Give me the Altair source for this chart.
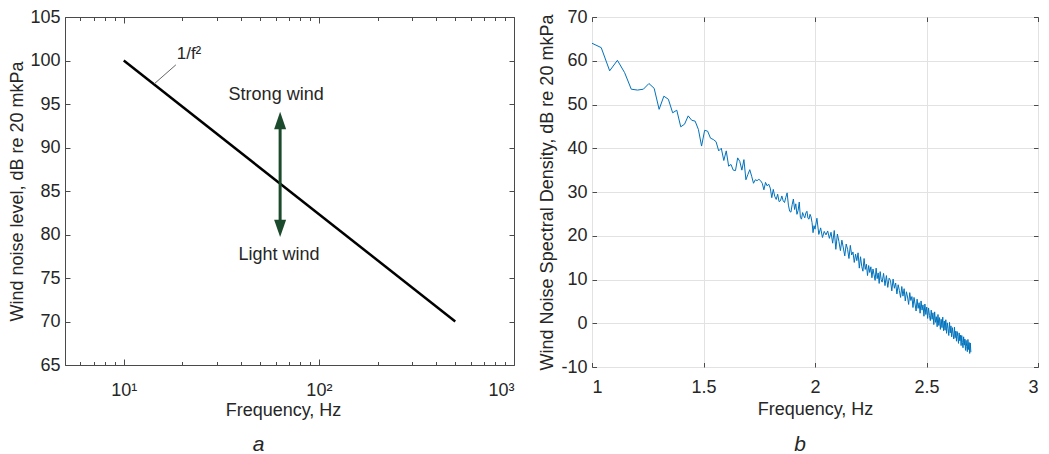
import altair as alt
import numpy as np
import pandas as pd

# ---------------- panel a ----------------
a_line_freq = [10, 500]
a_line_db = [100, 70]
a_ytick_values = [65, 70, 75, 80, 85, 90, 95, 100, 105]
a_xtick_major = [10, 100, 1000]
a_xtick_all = [5, 6, 7, 8, 9, 10, 20, 30, 40, 50, 60, 70, 80, 90,
               100, 200, 300, 400, 500, 600, 700, 800, 900, 1000]
arrow_freq = [63.3]
arrow_tip_top = [94.1]
arrow_tip_bottom = [79.7]
arrow_shaft_top = [93.0]
arrow_shaft_bottom = [80.8]
wind_labels = ["Strong wind", "Light wind"]
wind_label_freq = [60.4, 62.5]
wind_label_db = [96.0, 77.7]
slope_text = ["1/f\u00b2"]
slope_text_freq = [21.6]
slope_text_db = [100.8]
leader_freq = [14.3, 18.5]
leader_db = [97.3, 99.5]

# ---------------- panel b ----------------
# spectral density, dB
psd_10_100_step1 = [
    64.0, 63.0, 57.7, 60.1, 57.3, 53.5, 53.3, 53.5, 54.8, 53.7,
    48.9, 51.9, 51.2, 48.1, 48.7, 44.9, 45.5, 47.4, 46.4, 46.2,
    44.3, 40.5, 44.1, 43.9, 42.3, 42.0, 41.5, 39.4, 40.0, 37.2,
    39.4, 35.9, 36.3, 35.0, 34.9, 37.8, 37.0, 35.0, 37.4, 32.8,
    34.0, 35.1, 33.6, 32.0, 32.8, 32.6, 32.9, 32.6, 32.0, 30.5,
    32.2, 31.4, 31.8, 30.9, 28.7, 30.6, 29.0, 28.3, 29.5, 27.8,
    28.0, 29.1, 28.0, 27.6, 28.8, 29.8, 27.0, 25.6, 25.4, 27.1,
    28.4, 26.0, 27.3, 24.9, 25.8, 27.7, 24.2, 23.8, 25.3, 24.6,
    24.1, 25.2, 25.6, 24.0, 23.8, 24.9, 24.3, 23.0, 20.7, 22.3,
    21.5]
psd_102_200_step2 = [
    24.0, 20.3, 21.8, 19.6, 21.0, 20.2, 21.1, 19.4, 20.8, 18.3,
    21.2, 16.9, 20.4, 18.7, 16.6, 19.0, 17.2, 15.4, 18.1, 16.9,
    14.8, 17.8, 15.6, 16.3, 13.9, 15.8, 14.3, 16.1, 12.6, 15.2,
    13.0, 11.9, 14.8, 12.3, 13.5, 10.9, 13.2, 11.6, 12.9, 10.4,
    12.4, 11.1, 9.8, 12.6, 10.2, 11.5, 9.1, 11.8, 10.0, 9.4]
psd_203_500_step3 = [
    11.4, 8.6, 10.9, 8.2, 10.3, 9.8, 7.4, 10.1, 8.0, 9.2,
    6.7, 8.8, 7.5, 5.9, 8.4, 6.2, 7.9, 5.1, 7.2, 6.0,
    4.3, 7.0, 5.2, 6.1, 3.6, 5.9, 4.4, 2.8, 5.5, 3.4,
    4.7, 2.3, 5.1, 3.0, 4.2, 1.6, 4.4, 2.0, 3.7, 1.1,
    3.5, 1.8, 0.6, 3.0, 0.9, 2.4, -0.3, 2.6, 0.2, 1.5,
    -0.8, 2.0, -0.5, 1.3, -1.4, 0.9, -1.0, 1.4, -1.7, 0.5,
    -1.6, 0.8, -2.3, 0.1, -1.2, -2.8, 0.2, -2.2, -0.6, -3.1,
    -1.0, -2.4, -3.6, -0.9, -3.3, -1.8, -4.1, -1.9, -3.0, -4.6,
    -2.2, -4.0, -2.7, -5.1, -2.8, -4.4, -5.6, -3.1, -5.0, -3.6,
    -6.2, -3.9, -5.3, -6.5, -3.7, -6.0, -4.4, -6.9, -4.5, -6.6]
psd_freq = (list(range(10, 101, 1)) + list(range(102, 201, 2))
            + list(range(203, 501, 3)))
psd_db = psd_10_100_step1 + psd_102_200_step2 + psd_203_500_step3
b_xtick_values = [1, 1.5, 2, 2.5, 3]
b_ytick_values = [-10, 0, 10, 20, 30, 40, 50, 60, 70]

# ---------------- style ----------------
FONT = "Liberation Sans"
TXT = "#262626"
AX = "#4a4a4a"
GREEN = "#1c4a2c"
BLUE = "#0072BD"
W1, H1 = 449, 348
W2, H2 = 446, 350

major_cond = {"condition": {"test": "datum.value == 10 || datum.value == 100 || datum.value == 1000",
                            "value": 6}, "value": 3.5}


def inward_ticks(df, xf, yf, xs, ys, xvals, yvals, xsize, ysize, W, H):
    l1 = alt.Chart(df).mark_line(strokeOpacity=0).encode(
        x=alt.X(xf, scale=xs, axis=alt.Axis(orient="top", offset=-H, values=xvals, labels=False,
                                            domain=False, grid=False, title=None, tickSize=xsize,
                                            tickColor=AX, tickWidth=1)),
        y=alt.Y(yf, scale=ys, axis=alt.Axis(orient="right", offset=-W, values=yvals, labels=False,
                                            domain=False, grid=False, title=None, tickSize=ysize,
                                            tickColor=AX, tickWidth=1)),
    )
    l2 = alt.Chart(df).mark_line(strokeOpacity=0).encode(
        x=alt.X(xf, scale=xs, axis=alt.Axis(orient="bottom", offset=-H, values=xvals, labels=False,
                                            domain=False, grid=False, title=None, tickSize=xsize,
                                            tickColor=AX, tickWidth=1)),
        y=alt.Y(yf, scale=ys, axis=alt.Axis(orient="left", offset=-W, values=yvals, labels=False,
                                            domain=False, grid=False, title=None, tickSize=ysize,
                                            tickColor=AX, tickWidth=1)),
    )
    return [l1, l2]


# ---------------- panel a charts ----------------
xs_a = alt.Scale(type="log", domain=[5, 1000], nice=False)
ys_a = alt.Scale(domain=[65, 105], nice=False)
df_a = pd.DataFrame({"f": a_line_freq, "db": a_line_db})

a_main = alt.Chart(df_a).mark_line(color="black", strokeWidth=2.5).encode(
    x=alt.X("f:Q", scale=xs_a, axis=alt.Axis(
        orient="bottom", values=a_xtick_major,
        labelExpr="datum.value == 10 ? '10\u00b9' : datum.value == 100 ? '10\u00b2' : '10\u00b3'",
        title="Frequency, Hz", ticks=False, tickSize=0, domain=False, grid=False,
        labelPadding=16, titlePadding=2, titleX=218)),
    y=alt.Y("db:Q", scale=ys_a, axis=alt.Axis(
        orient="left", values=a_ytick_values, title="Wind noise level, dB re 20 mkPa",
        ticks=False, tickSize=0, domain=False, grid=False, labelPadding=5, titlePadding=3)),
)

df_leader = pd.DataFrame({"f": leader_freq, "db": leader_db})
a_leader = alt.Chart(df_leader).mark_line(color="#555555", strokeWidth=0.9).encode(
    x=alt.X("f:Q", scale=xs_a, axis=None), y=alt.Y("db:Q", scale=ys_a, axis=None))

df_arrow = pd.DataFrame({"f": arrow_freq, "top": arrow_tip_top, "bottom": arrow_tip_bottom,
                         "s_top": arrow_shaft_top, "s_bottom": arrow_shaft_bottom})
a_shaft = alt.Chart(df_arrow).mark_rule(color=GREEN, strokeWidth=3).encode(
    x=alt.X("f:Q", scale=xs_a, axis=None), y=alt.Y("s_top:Q", scale=ys_a, axis=None),
    y2="s_bottom:Q")
a_head_up = alt.Chart(df_arrow).mark_point(
    shape="M0,0 L1,2.9 L-1,2.9 Z", size=144, filled=True, color=GREEN, opacity=1,
    strokeWidth=0).encode(
    x=alt.X("f:Q", scale=xs_a, axis=None), y=alt.Y("top:Q", scale=ys_a, axis=None))
a_head_down = alt.Chart(df_arrow).mark_point(
    shape="M0,0 L1,-2.9 L-1,-2.9 Z", size=144, filled=True, color=GREEN, opacity=1,
    strokeWidth=0).encode(
    x=alt.X("f:Q", scale=xs_a, axis=None), y=alt.Y("bottom:Q", scale=ys_a, axis=None))

df_wind = pd.DataFrame({"f": wind_label_freq, "db": wind_label_db, "t": wind_labels})
a_wind = alt.Chart(df_wind).mark_text(fontSize=18, color=TXT, font=FONT).encode(
    x=alt.X("f:Q", scale=xs_a, axis=None), y=alt.Y("db:Q", scale=ys_a, axis=None), text="t:N")

df_slope = pd.DataFrame({"f": slope_text_freq, "db": slope_text_db, "t": slope_text})
a_slope = alt.Chart(df_slope).mark_text(fontSize=17, color=TXT, font=FONT).encode(
    x=alt.X("f:Q", scale=xs_a, axis=None), y=alt.Y("db:Q", scale=ys_a, axis=None), text="t:N")

a_ticks = inward_ticks(df_a, "f:Q", "db:Q", xs_a, ys_a, a_xtick_all, a_ytick_values,
                       major_cond, 5, W1, H1)

panel_a = alt.layer(a_main, *a_ticks, a_leader, a_shaft, a_head_up, a_head_down,
                    a_wind, a_slope).properties(
    width=W1, height=H1,
    title=alt.TitleParams("a", orient="bottom", fontStyle="italic", fontSize=21,
                          fontWeight="normal", color=TXT, font=FONT, frame="group",
                          dx=-31, offset=15))

# ---------------- panel b charts ----------------
xs_b = alt.Scale(domain=[1, 3], nice=False)
ys_b = alt.Scale(domain=[-10, 70], nice=False)
df_b = pd.DataFrame({"lf": np.log10(np.array(psd_freq, dtype=float)), "db": psd_db})

b_main = alt.Chart(df_b).mark_line(color=BLUE, strokeWidth=1).encode(
    x=alt.X("lf:Q", scale=xs_b, axis=alt.Axis(
        orient="bottom", values=b_xtick_values, labelExpr="datum.value + ''",
        title="Frequency, Hz", ticks=False, tickSize=0, domain=False, grid=True,
        gridColor="#e2e2e2", gridWidth=1, labelPadding=11, titlePadding=4)),
    y=alt.Y("db:Q", scale=ys_b, axis=alt.Axis(
        orient="left", values=b_ytick_values, labelExpr="datum.value + ''",
        title="Wind Noise Spectral Density, dB re 20 mkPa", ticks=False, tickSize=0,
        domain=False, grid=True, gridColor="#e2e2e2", gridWidth=1, labelPadding=5,
        titlePadding=4)),
)
b_ticks = inward_ticks(df_b, "lf:Q", "db:Q", xs_b, ys_b, b_xtick_values, b_ytick_values,
                       4.5, 4.5, W2, H2)

panel_b = alt.layer(b_main, *b_ticks).properties(
    width=W2, height=H2,
    title=alt.TitleParams("b", orient="bottom", fontStyle="italic", fontSize=21,
                          fontWeight="normal", color=TXT, font=FONT, frame="group",
                          dx=-15, offset=16))

chart = alt.hconcat(panel_a, panel_b, spacing=23).properties(
    padding={"left": 0, "top": -1, "right": 0, "bottom": 0}
).configure(font=FONT).configure_view(stroke=AX, strokeWidth=1).configure_axis(
    labelFontSize=18, titleFontSize=18, labelColor=TXT, titleColor=TXT,
    labelFont=FONT, titleFont=FONT, titleFontWeight="normal")

chart.save("out.html", embed_options={"renderer": "svg", "actions": False})
